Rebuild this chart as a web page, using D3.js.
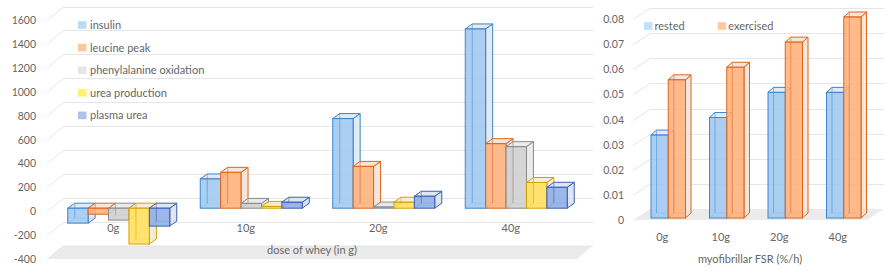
<!DOCTYPE html>
<html><head><meta charset="utf-8">
<script src="https://cdn.jsdelivr.net/npm/d3@7"></script>
<style>
body{margin:0;background:#fff;}
text{font-family:Lato,"Open Sans",sans-serif;fill:#666;}
</style></head>
<body><svg id="chart" width="894" height="273"></svg>
<script>
// data
var doses=["0g","10g","20g","40g"];
var leftSeries=["insulin","leucine peak","phenylalanine oxidation","urea production","plasma urea"];
var insulin=[-125,245,750,1500];
var leucinePeak=[-50,300,350,540];
var pheOxidation=[-100,40,10,515];
var ureaProduction=[-300,15,50,215];
var plasmaUrea=[-150,50,100,175];
var leftTicks=[-400,-200,0,200,400,600,800,1000,1200,1400,1600];

var rightSeries=["rested","exercised"];
var rested=[0.033,0.04,0.05,0.05];
var exercised=[0.055,0.06,0.07,0.08];
var rightTicks=[0,0.01,0.02,0.03,0.04,0.05,0.06,0.07,0.08];

var leftValues=[insulin,leucinePeak,pheOxidation,ureaProduction,plasmaUrea];
var rightValues=[rested,exercised];

// colours: front fill, edge, legend swatch
var leftFill=["#9fc8f0","#ffb07c","#cfcfcf","#ffdf5a","#8eade6"];
var leftEdge=["#3d85cc","#e0651a","#8a8a8a","#d4a200","#3a60b5"];
var leftKey=["#b9dcf8","#fcc89e","#e6e6e6","#fff36e","#abc3ee"];
var rightFill=["#9fc8f0","#ffb07c"];
var rightEdge=["#3d85cc","#e0651a"];
var rightKey=["#bfe0fa","#ffc99e"];

var svg=d3.select("#chart");
var gridCol="#e6e6e6";

function drawBar(g,x,w,yA,yB,dx,dy,fill,edge){
    var yt=Math.min(yA,yB), yb=Math.max(yA,yB);
    var side=d3.interpolateRgb(fill,"#eeeeee")(0.8);
    // hidden edges seen through the glass
    g.append("path")
        .attr("d","M"+(x+dx)+","+(yt+dy)+"L"+(x+dx)+","+(yb+dy)+"L"+(x+w+dx)+","+(yb+dy)
            +"M"+x+","+yb+"L"+(x+dx)+","+(yb+dy))
        .attr("fill","none").attr("stroke",edge).attr("stroke-opacity",0.6);
    // side
    g.append("path")
        .attr("d","M"+(x+w)+","+yt+"L"+(x+w+dx)+","+(yt+dy)+"L"+(x+w+dx)+","+(yb+dy)+"L"+(x+w)+","+yb+"Z")
        .attr("fill",side).attr("fill-opacity",0.85).attr("stroke",edge).attr("stroke-linejoin","round");
    // top
    g.append("path")
        .attr("d","M"+x+","+yt+"L"+(x+dx)+","+(yt+dy)+"L"+(x+w+dx)+","+(yt+dy)+"L"+(x+w)+","+yt+"Z")
        .attr("fill",side).attr("fill-opacity",0.85).attr("stroke",edge).attr("stroke-linejoin","round");
    // front
    g.append("rect")
        .attr("x",x).attr("y",yt).attr("width",w).attr("height",Math.max(yb-yt,0.5))
        .attr("fill",fill).attr("fill-opacity",0.88).attr("stroke",edge);
    g.append("path")
        .attr("d","M"+(x+dx)+","+(yt+dy)+"L"+(x+dx)+","+(yb+dy))
        .attr("fill","none").attr("stroke",edge).attr("stroke-opacity",0.45);
}

// ---------- left chart ----------
var yL=d3.scaleLinear().domain([-400,1600]).range([259,20]);
var xL=d3.scaleBand().domain(doses).range([47,577]);
var xLin=d3.scaleBand().domain(leftSeries).range([0,102]);
var wL={dx:16,dy:-13.5};
var bL={ox:5.5,oy:-3,dx:7,dy:-5};

var gl=svg.append("g");
// floor
gl.append("path")
    .attr("d","M47,"+yL(-400)+"L577,"+yL(-400)+"L"+(577+wL.dx)+","+(yL(-400)+wL.dy)+"L"+(47+wL.dx)+","+(yL(-400)+wL.dy)+"Z")
    .attr("fill","#ebebeb");
gl.selectAll(".gridL").data(leftTicks).enter()
    .append("path")
    .attr("d",function(d){
        var y=Math.round(yL(d))+0.5, yb=Math.round(yL(d)+wL.dy)+0.5;
        return "M47,"+y+"L"+(47+wL.dx)+","+yb+"L"+(577+wL.dx)+","+yb;
    })
    .attr("fill","none").attr("stroke",gridCol);
gl.selectAll(".tickL").data(leftTicks).enter()
    .append("text")
    .attr("x",36).attr("y",function(d){return yL(d)+4;})
    .attr("text-anchor","end").attr("font-size",10.5)
    .text(function(d){return d;});

doses.forEach(function(c,i){
    var g=gl.append("g");
    leftSeries.forEach(function(s,j){
        var x=xL(c)+(xL.bandwidth()-102)/2+xLin(s)+bL.ox;
        drawBar(g,x,xLin.bandwidth(),yL(0)+bL.oy,yL(leftValues[j][i])+bL.oy,bL.dx,bL.dy,leftFill[j],leftEdge[j]);
    });
});
gl.selectAll(".catL").data(doses).enter()
    .append("text")
    .attr("x",function(d){return xL(d)+xL.bandwidth()/2;})
    .attr("y",232).attr("text-anchor","middle").attr("font-size",11)
    .text(function(d){return d;});
gl.append("text").attr("x",312).attr("y",254).attr("text-anchor","middle")
    .attr("font-size",11).text("dose of whey (in g)");

var legL=gl.selectAll(".legL").data(leftSeries).enter()
    .append("g")
    .attr("transform",function(d,i){return "translate(78,"+(25+i*22.6)+")";});
legL.append("rect").attr("x",0).attr("y",-3.8).attr("width",8.5).attr("height",7.6)
    .attr("fill",function(d,i){return leftKey[i];});
legL.append("text").attr("x",12).attr("y",4).attr("font-size",11)
    .text(function(d){return d;});

// ---------- right chart ----------
var yR=d3.scaleLinear().domain([0,0.08]).range([220,19]);
var xR=d3.scaleBand().domain(doses).range([633,867]);
var xRin=d3.scaleBand().domain(rightSeries).range([0,34.5]);
var wR={dx:17,dy:-11};
var bR={ox:6,oy:-2,dx:5.5,dy:-5};

var gr=svg.append("g");
gr.append("path")
    .attr("d","M633,"+yR(0)+"L867,"+yR(0)+"L"+(867+wR.dx)+","+(yR(0)+wR.dy)+"L"+(633+wR.dx)+","+(yR(0)+wR.dy)+"Z")
    .attr("fill","#ebebeb");
gr.selectAll(".gridR").data(rightTicks.slice(1)).enter()
    .append("path")
    .attr("d",function(d){
        var y=Math.round(yR(d))+0.5, yb=Math.round(yR(d)+wR.dy)+0.5;
        return "M633,"+y+"L"+(633+wR.dx)+","+yb+"L"+(867+wR.dx)+","+yb;
    })
    .attr("fill","none").attr("stroke",gridCol);
gr.selectAll(".tickR").data(rightTicks).enter()
    .append("text")
    .attr("x",624).attr("y",function(d){return yR(d)+4;})
    .attr("text-anchor","end").attr("font-size",10.5)
    .text(function(d){return d===0?"0":d.toFixed(2);});

doses.forEach(function(c,i){
    var g=gr.append("g");
    rightSeries.forEach(function(s,j){
        var x=xR(c)+(xR.bandwidth()-34.5)/2+xRin(s)+bR.ox;
        drawBar(g,x,xRin.bandwidth(),yR(0)+bR.oy,yR(rightValues[j][i])+bR.oy,bR.dx,bR.dy,rightFill[j],rightEdge[j]);
    });
});
gr.selectAll(".catR").data(doses).enter()
    .append("text")
    .attr("x",function(d){return xR(d)+xR.bandwidth()/2;})
    .attr("y",240.5).attr("text-anchor","middle").attr("font-size",11)
    .text(function(d){return d;});
gr.append("text").attr("x",750).attr("y",263).attr("text-anchor","middle")
    .attr("font-size",11).text("myofibrillar FSR (%/h)");

var legRx=[644,717.7];
var legR=gr.selectAll(".legR").data(rightSeries).enter()
    .append("g")
    .attr("transform",function(d,i){return "translate("+legRx[i]+",26)";});
legR.append("rect").attr("x",0).attr("y",-3.8).attr("width",8.5).attr("height",7.6)
    .attr("fill",function(d,i){return rightKey[i];});
legR.append("text").attr("x",10.5).attr("y",4).attr("font-size",11)
    .text(function(d){return d;});
</script>
</body></html>
